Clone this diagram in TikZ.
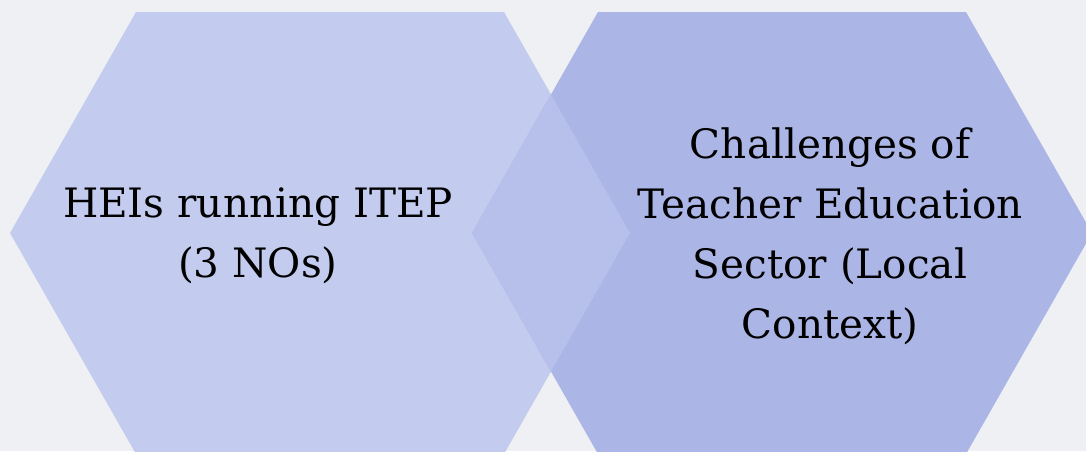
\documentclass[tikz,border=0pt]{standalone}
\usepackage{fontspec}
\setmainfont{DejaVu Serif}
\definecolor{bgc}{HTML}{EEF0F3}
\definecolor{hexA}{HTML}{C3CCEE}
\definecolor{hexB}{HTML}{ABB5E6}
\definecolor{hexAB}{HTML}{B6C0EA}
\tikzset{
  hexlabel/.style={align=center, inner sep=0pt, text=black,
    font=\fontsize{40.5}{60}\selectfont},
}
\begin{document}
\begin{tikzpicture}[x=1pt,y=-1pt]
  \useasboundingbox (0,0) rectangle (1086,451);
  \fill[bgc] (0,0) rectangle (1086,451);
  % left hexagon
  \fill[hexA] (10,233) -- (136,12) -- (504,12) -- (630,233) -- (504,454) -- (136,454) -- cycle;
  % right hexagon
  \fill[hexB] (472,233) -- (598,12) -- (966,12) -- (1092,233) -- (966,454) -- (598,454) -- cycle;
  % overlap
  \fill[hexAB] (472,233) -- (551,94.5) -- (630,233) -- (551,371.5) -- cycle;
  \node[hexlabel] (left) at (258,236) {HEIs running ITEP\\(3 NOs)};
  \node[hexlabel] (right) at (830,236) {Challenges of\\Teacher Education\\Sector (Local\\Context)};
\end{tikzpicture}
\end{document}
